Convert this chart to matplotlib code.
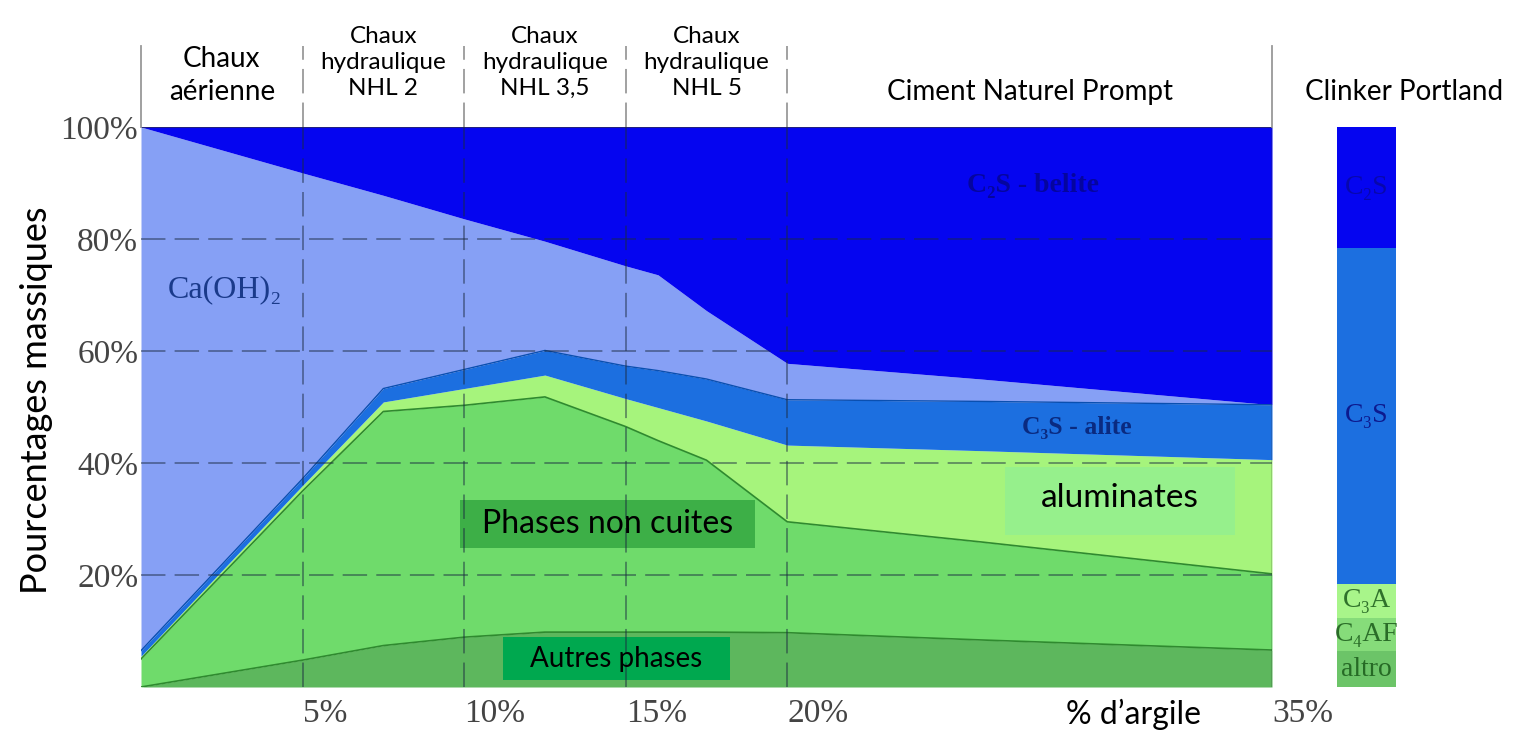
import numpy as np
import matplotlib
matplotlib.use("Agg")
import matplotlib.pyplot as plt
from matplotlib.patches import Rectangle

# % d'argile et frontières cumulées des couches (en %)
x = [0, 5, 7.5, 10, 12.5, 15, 16, 17.5, 20, 26, 35]
autres_top = [0, 4.8, 7.4, 8.9, 9.8, 9.8, 9.8, 9.8, 9.7, 8.4, 6.6]
non_cuites_top = [5, 35, 49.2, 50.3, 51.8, 46.5, 44, 40.5, 29.5, 25.9, 20.2]
aluminates_top = [5.5, 36, 50.9, 53.3, 55.7, 51.5, 49.9, 47.5, 43.2, 42.2, 40.6]
alite_top = [6.5, 37.2, 53.3, 56.7, 60.1, 57.3, 56.5, 55.0, 51.3, 51.0, 50.4]
caoh2_top = [100, 91.8, 87.8, 83.6, 79.6, 75.2, 73.6, 67.2, 57.8, 55.0, 50.4]
belite_top = [100] * len(x)

# clinker Portland (barre à droite)
clinker_names = ["altro", "C₄AF", "C₃A", "C₃S", "C₂S"]
clinker_vals = [6.4, 6.0, 6.0, 60.0, 21.6]
clinker_colors = ["#6cc468", "#86dc7a", "#a8f58a", "#1c6fe0", "#0505f0"]

categories = ["Chaux\naérienne", "Chaux\nhydraulique\nNHL 2", "Chaux\nhydraulique\nNHL 3,5",
              "Chaux\nhydraulique\nNHL 5", "Ciment Naturel Prompt"]
cat_centers = [2.5, 7.5, 12.5, 17.5, 27.5]
xticks = [5, 10, 15, 20, 35]
yticks = [20, 40, 60, 80, 100]

sans = ["Lato", "DejaVu Sans"]
serif = ["Liberation Serif", "DejaVu Serif"]

fig = plt.figure(figsize=(15.13, 7.33), dpi=100)
ax = fig.add_axes([141/1513, 1-687/733, (1272-141)/1513, (687-127)/733])

layers = [
    ([0]*len(x), autres_top, "#5db75d"),
    (autres_top, non_cuites_top, "#6fdb6b"),
    (non_cuites_top, aluminates_top, "#a6f47c"),
    (aluminates_top, alite_top, "#1c6fe0"),
    (alite_top, caoh2_top, "#86a0f5"),
    (caoh2_top, belite_top, "#0505f0"),
]
for lo, hi, c in layers:
    ax.fill_between(x, lo, hi, color=c, lw=0)
ax.plot(x, autres_top, color="#2f8a2f", lw=1.2)
ax.plot(x, non_cuites_top, color="#2f8a2f", lw=1.2)
ax.plot(x, alite_top, color="#0a4fb0", lw=1.0)
ax.axhline(100, color="#10106a", lw=1.2)

ax.set_xlim(0, 35)
ax.set_ylim(0, 100)
for s in ax.spines.values():
    s.set_visible(False)

dash = (0, (16, 6))
for yv in [20, 40, 60, 80]:
    ax.axhline(yv, color="#1a2a40", lw=1.1, alpha=0.6, ls=dash)
for xv in [5, 10, 15, 20]:
    ax.axvline(xv, color="#1a2a40", lw=1.1, alpha=0.6, ls=dash)
    ax.plot([xv, xv], [100, 114.5], color="#888888", lw=1.1, ls=dash, clip_on=False)
for xv in [0, 35]:
    ax.plot([xv, xv], [100, 114.5], color="#999999", lw=1.3, clip_on=False)
ax.axvline(35, color="#333333", lw=1.0)

ax.set_yticks(yticks)
ax.set_yticklabels([f"{v}%" for v in yticks], fontfamily=serif, fontsize=24, color="#444444")
ax.set_xticks(xticks)
ax.set_xticklabels([f"{v}%" for v in xticks], fontfamily=serif, fontsize=24, color="#444444", ha="left")
ax.tick_params(length=0, axis="y", pad=2)
ax.tick_params(length=0, axis="x", pad=8)

for lab, cx in zip(categories, cat_centers):
    nlines = lab.count("\n") + 1
    if nlines == 1:
        ax.text(cx, 106.2, lab, ha="center", va="center", fontsize=20, family=sans, clip_on=False)
    elif nlines == 2:
        ax.text(cx, 104.0, lab, ha="center", va="bottom", fontsize=20, family=sans,
                linespacing=1.3, clip_on=False)
    else:
        ax.text(cx, 105.0, lab, ha="center", va="bottom", fontsize=17.5, family=sans,
                linespacing=1.3, clip_on=False)

# étiquettes des couches
ax.text(2.6, 71, "Ca(OH)₂", family=serif, fontsize=23, color="#1a3a8a", ha="center", va="center")
ax.text(27.6, 89.6, "C₂S - belite", family=serif, fontsize=20, color="#05058a", ha="center",
        va="center", fontweight="bold", alpha=0.8)
ax.text(28.95, 46.4, "C₃S - alite", family=serif, fontsize=18.5, color="#0a2a80", ha="center",
        va="center", fontweight="bold")

ax.add_patch(Rectangle((26.74, 27.1), 33.86-26.74, 39.3-27.1, fc="#96f08c", ec="none"))
ax.text(30.3, 33.8, "aluminates", family=sans, fontsize=24, ha="center", va="center")
ax.add_patch(Rectangle((9.87, 24.8), 19.0-9.87, 33.4-24.8, fc="#3daf47", ec="none"))
ax.text(14.45, 29.1, "Phases non cuites", family=sans, fontsize=23, ha="center", va="center")
ax.add_patch(Rectangle((11.2, 1.25), 18.23-11.2, 8.9-1.25, fc="#00a84f", ec="none"))
ax.text(14.7, 5.0, "Autres phases", family=sans, fontsize=20, ha="center", va="center")

ax.text(30.7, -4.8, "% d’argile", family=sans, fontsize=23, ha="center", va="center", clip_on=False)
fig.text(37/1513, 1-400/733, "Pourcentages massiques", rotation=90, family=sans, fontsize=26,
         ha="center", va="center")

# barre clinker
bx = fig.add_axes([1337/1513, 1-687/733, 59/1513, (687-127)/733])
bottom = 0
for name, v, c in zip(clinker_names, clinker_vals, clinker_colors):
    bx.bar(0.5, v, width=1, bottom=bottom, color=c, lw=0)
    tc = "#0a0a80" if name.startswith("C₂") or name.startswith("C₃S") else "#1a5a1a"
    bx.text(0.5, bottom + v/2, name, ha="center", va="center", family=serif, fontsize=20,
            color=tc, alpha=0.85 if name != "C₂S" else 0.6, clip_on=False)
    bottom += v
bx.set_xlim(0, 1)
bx.set_ylim(0, 100)
bx.axis("off")
fig.text(1404/1513, 1-92/733, "Clinker Portland", family=sans, fontsize=20, ha="center", va="center")

fig.savefig("out.png", dpi=100)
